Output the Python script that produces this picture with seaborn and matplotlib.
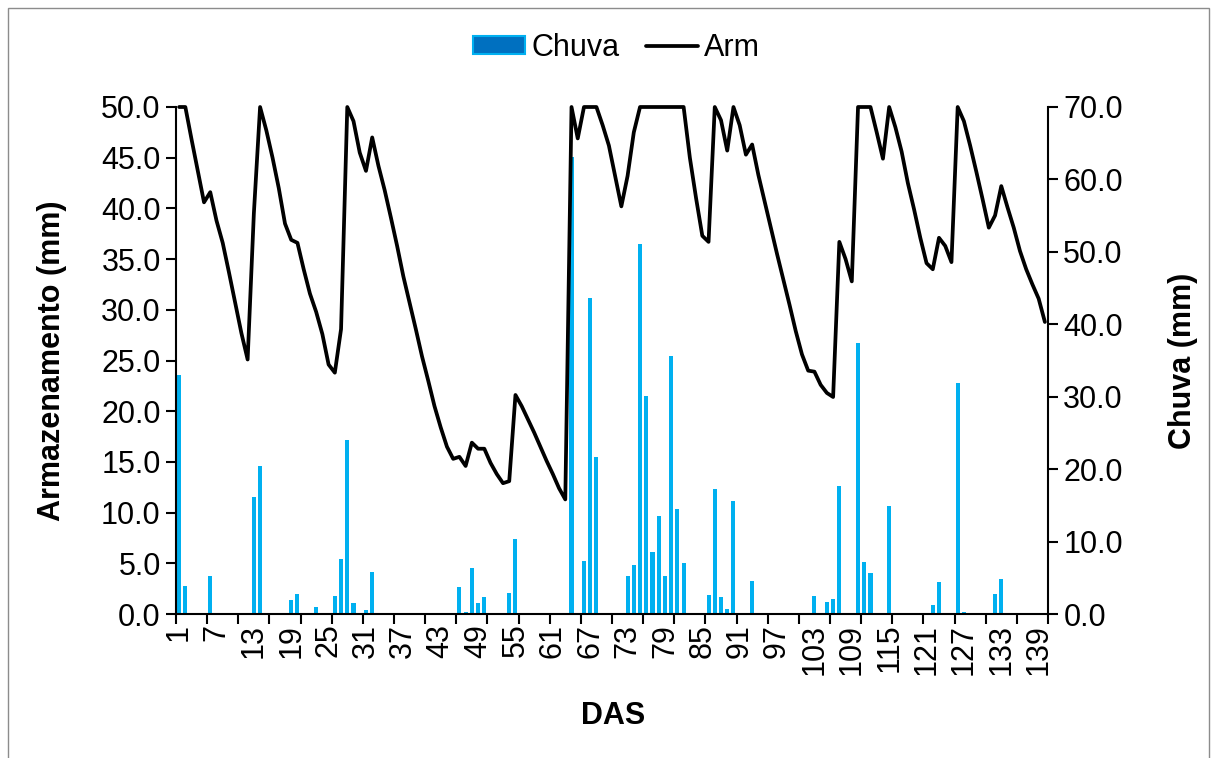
import matplotlib
matplotlib.use("Agg")
import numpy as np
import pandas as pd
import matplotlib.pyplot as plt
import seaborn as sns
from matplotlib.patches import Patch, Rectangle
from matplotlib.lines import Line2D

sns.set_theme(style="ticks")
plt.rcParams["font.family"] = ["Liberation Sans", "DejaVu Sans"]

# dias apos semeadura
das = list(range(1, 141))

# armazenamento de agua no solo (mm), um valor por dia
arm = [50, 50, 46.8, 43.7, 40.6, 41.6, 38.8, 36.6, 33.7, 30.7,
       27.7, 25.1, 39.5, 50, 47.7, 45.0, 42.0, 38.5, 36.9, 36.6,
       34.0, 31.6, 29.8, 27.6, 24.6, 23.8, 28.1, 50, 48.6, 45.5,
       43.7, 47.0, 44.2, 41.8, 39.1, 36.3, 33.3, 30.7, 28.1, 25.4,
       23.0, 20.5, 18.4, 16.5, 15.3, 15.5, 14.6, 16.9, 16.3, 16.3,
       14.9, 13.8, 12.9, 13.1, 21.6, 20.5, 19.2, 17.9, 16.5, 15.1,
       13.8, 12.4, 11.3, 50, 46.9, 50, 50, 50, 48.2, 46.2,
       43.2, 40.2, 43.2, 47.5, 50, 50, 50, 50, 50, 50,
       50, 50, 45.0, 41.0, 37.3, 36.7, 50, 48.7, 45.7, 50,
       48.2, 45.3, 46.3, 43.3, 40.7, 38.1, 35.5, 33.0, 30.5, 27.9,
       25.6, 24.0, 23.9, 22.6, 21.8, 21.4, 36.7, 35.0, 32.8, 50,
       50, 50, 47.5, 44.9, 50, 48.0, 45.6, 42.5, 39.9, 37.1,
       34.6, 34.0, 37.1, 36.3, 34.7, 50, 48.6, 46.2, 43.6, 40.9,
       38.1, 39.3, 42.2, 40.1, 38.1, 35.8, 34.0, 32.5, 31.1, 28.8]

# dias com chuva e lamina (mm)
rain_days = [1, 2, 6, 13, 14, 15, 19, 20, 23, 24, 26, 27, 28, 29, 30, 31, 32,
             46, 47, 48, 49, 50, 54, 55, 64, 66, 67, 68, 73, 74, 75, 76, 77,
             78, 79, 80, 81, 82, 86, 87, 88, 89, 90, 91, 93, 95, 103, 105,
             106, 107, 109, 110, 111, 112, 115, 122, 123, 126, 127, 132, 133]
rain_mm = [33.0, 3.9, 5.2, 16.2, 20.4, 0.2, 1.9, 2.7, 1.0, 0.2, 2.5, 7.6, 24.0,
           1.5, 0.2, 0.6, 5.8, 3.7, 0.3, 6.3, 1.5, 2.3, 2.9, 10.3, 63.1, 7.3,
           43.6, 21.7, 5.3, 6.7, 51.1, 30.1, 8.6, 13.5, 5.2, 35.6, 14.5, 7.0,
           2.6, 17.3, 2.3, 0.7, 15.6, 0.2, 4.6, 0.2, 2.5, 1.7, 2.1, 17.7, 0.2,
           37.4, 7.2, 5.7, 14.9, 1.2, 4.4, 31.9, 0.3, 2.7, 4.9]

chuva = np.zeros(len(das))
for d, v in zip(rain_days, rain_mm):
    chuva[d - 1] = v

df = pd.DataFrame({"DAS": das, "Arm": arm, "Chuva": chuva})

fig = plt.figure(figsize=(12.16, 7.58), dpi=100)
ax = fig.add_axes([176 / 1216, 1 - 614 / 758, 872 / 1216, 507 / 758])
ax2 = ax.twinx()

sns.barplot(data=df, x="DAS", y="Chuva", native_scale=True, color="#00B0F0",
            saturation=1, width=0.65, errorbar=None, linewidth=0, ax=ax2)
sns.lineplot(data=df, x="DAS", y="Arm", color="black", linewidth=2.7, ax=ax)
ax.lines[0].set_clip_on(False)

# linha por cima das barras
ax.set_zorder(ax2.get_zorder() + 1)
ax.patch.set_visible(False)

ax.set_xlim(0.5, 140.5)
ax.set_ylim(0, 50)
ax2.set_ylim(0, 70)

yt = np.arange(0, 50.1, 5)
ax.set_yticks(yt)
ax.set_yticklabels([f"{v:.1f}" for v in yt])
yt2 = np.arange(0, 70.1, 10)
ax2.set_yticks(yt2)
ax2.set_yticklabels([f"{v:.1f}" for v in yt2])

# marcas a cada 5 categorias, rotulos a cada 6
ax.set_xticks(np.arange(0.5, 141, 5))
ax.set_xticklabels([])
lab = list(range(1, 140, 6))
ax.set_xticks(lab, minor=True)
ax.set_xticklabels([str(v) for v in lab], minor=True, rotation=90)
ax.tick_params(axis="x", which="major", direction="out", length=7, width=1.5, color="black")
ax.tick_params(axis="x", which="minor", length=0, labelsize=22, pad=7, colors="black")
ax.tick_params(axis="y", direction="out", length=7, width=1.5, labelsize=22, pad=4, colors="black")
ax2.tick_params(axis="y", direction="out", length=7, width=1.5, labelsize=22, pad=4, colors="black")

for s in ["top", "right"]:
    ax.spines[s].set_visible(False)
for s in ["top", "left", "bottom"]:
    ax2.spines[s].set_visible(False)
for s in ["left", "bottom"]:
    ax.spines[s].set_linewidth(1.5)
    ax.spines[s].set_color("black")
ax2.spines["right"].set_linewidth(1.5)
ax2.spines["right"].set_color("black")

ax.set_xlabel("DAS", fontsize=22, fontweight="bold", color="black")
ax.set_ylabel("Armazenamento (mm)", fontsize=22, fontweight="bold", color="black")
ax2.set_ylabel("Chuva (mm)", fontsize=22, fontweight="bold", color="black")
ax.xaxis.set_label_coords(0.501, -0.172)
ax.yaxis.set_label_coords(-0.125, 0.5)
ax2.yaxis.set_label_coords(1.138, 0.5)

handles = [Patch(facecolor="#0070C0", edgecolor="#00B0F0", linewidth=1.5),
           Line2D([], [], color="black", linewidth=2.7)]
fig.legend(handles, ["Chuva", "Arm"], loc="center", bbox_to_anchor=(0.507, 0.937),
           ncol=2, frameon=False, fontsize=22, handlelength=1.7, handleheight=0.5,
           handletextpad=0.2, columnspacing=0.85, labelcolor="black")

fig.patches.append(Rectangle((8 / 1216, -0.01), (1209 - 8) / 1216, 1.0 - 8 / 758 + 0.01,
                             transform=fig.transFigure, fill=False,
                             edgecolor="#8c8c8c", linewidth=1))

fig.savefig("out.png", dpi=100)
